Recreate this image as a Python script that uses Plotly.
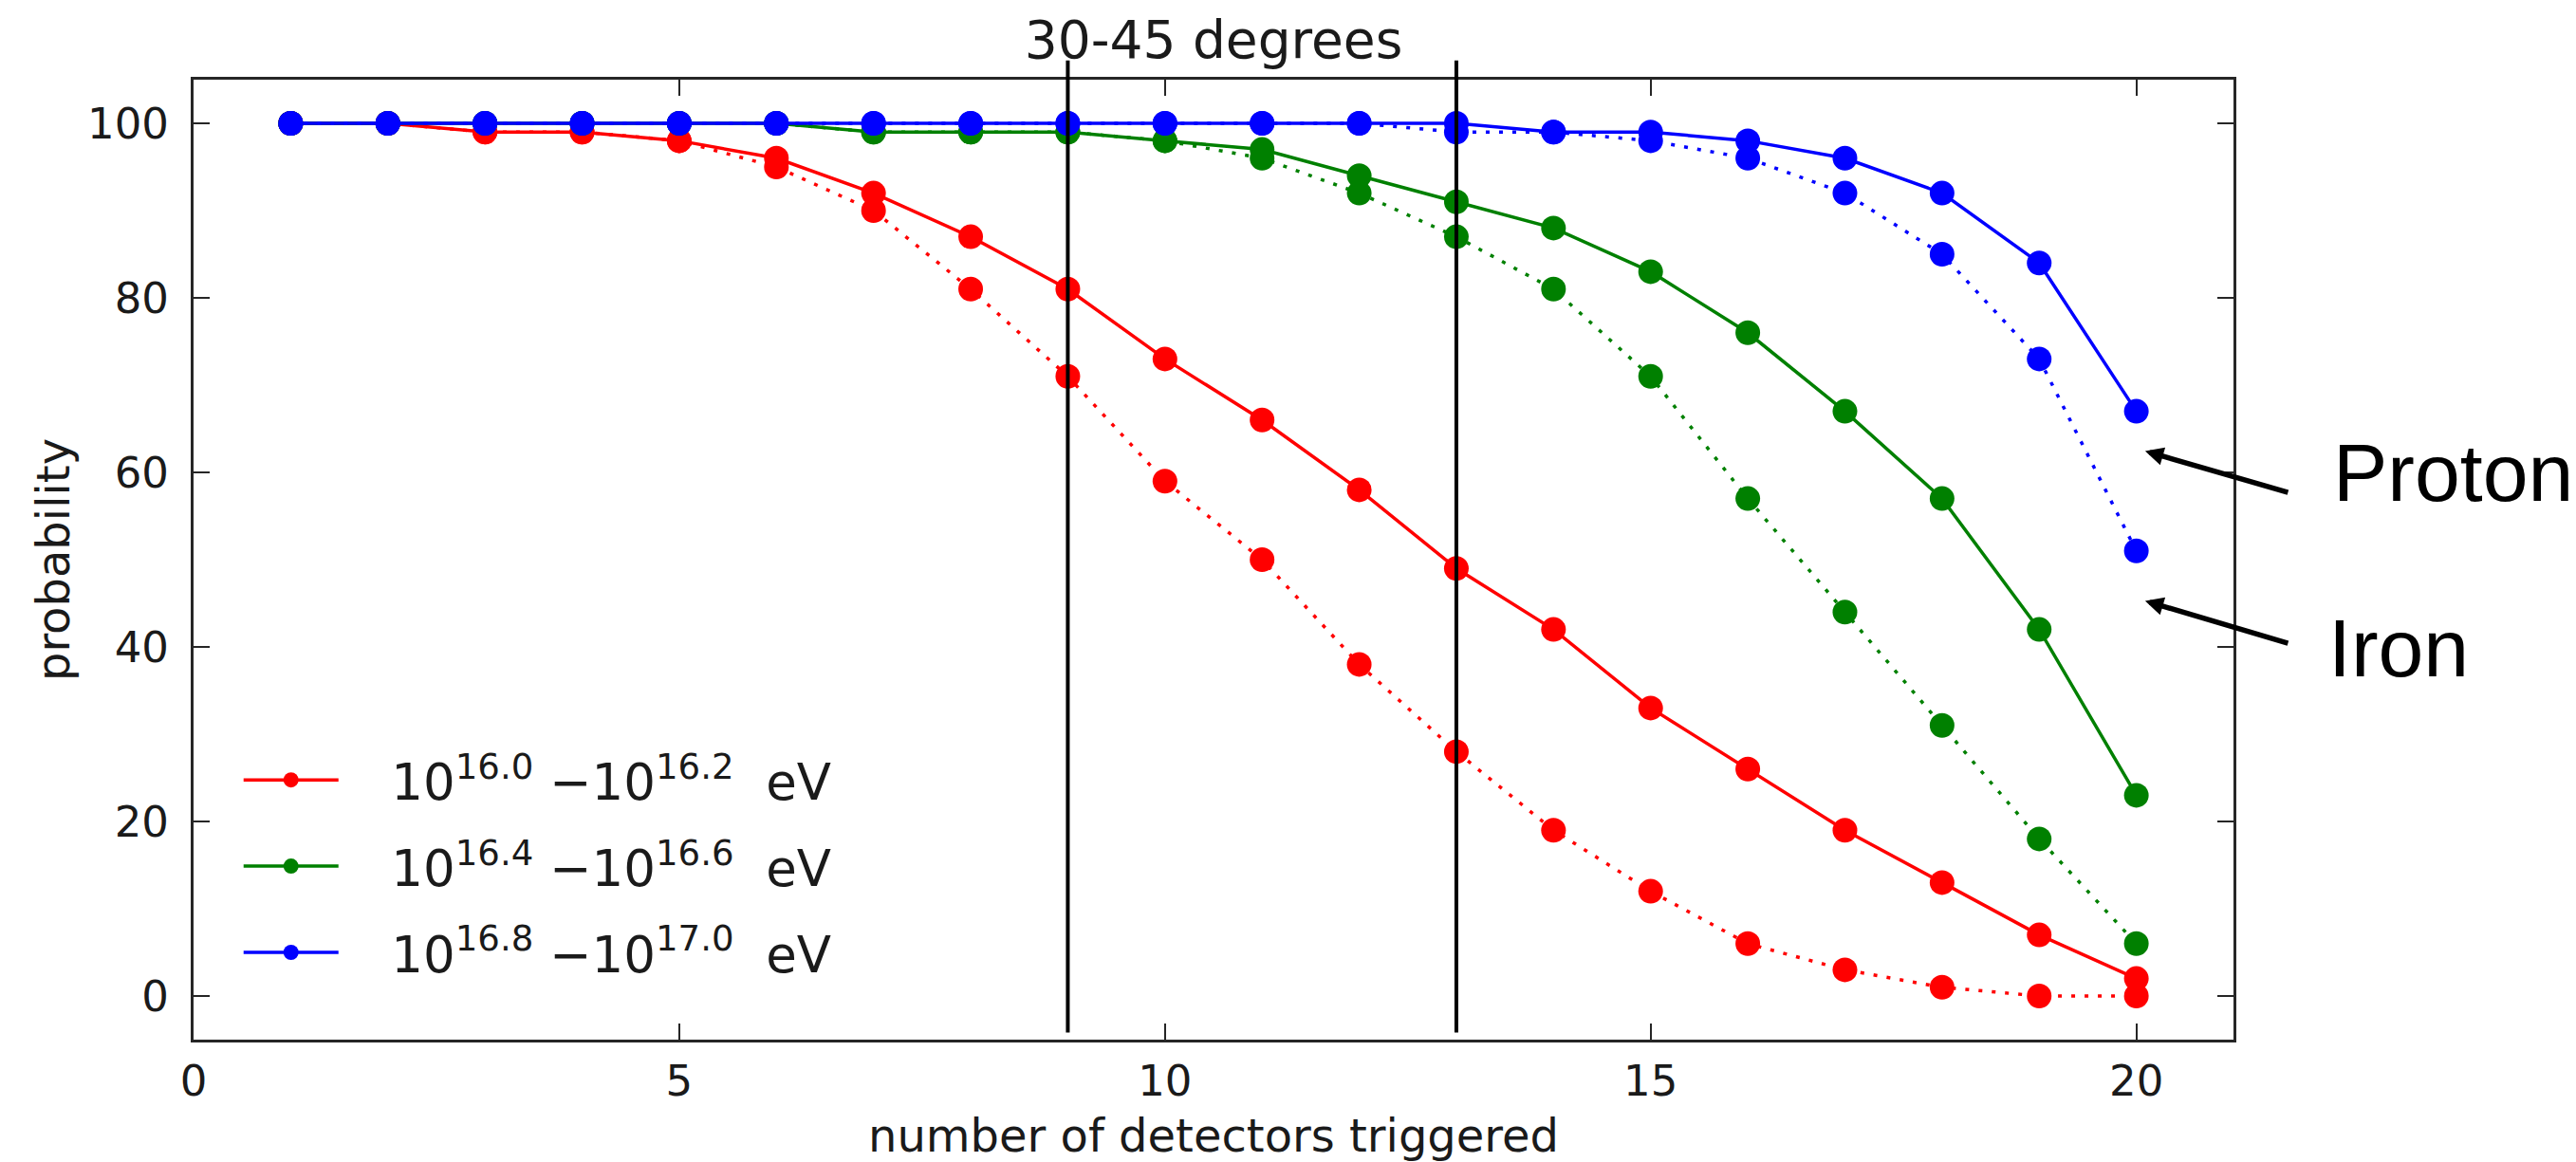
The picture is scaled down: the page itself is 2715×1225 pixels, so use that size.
import plotly.graph_objects as go

# ---------------- data ----------------
detectors = list(range(1, 21))

legend_labels = [
    "\u00a0\u00a0\u00a010<sup>16.0</sup> \u221210<sup>16.2</sup>\u00a0\u00a0eV",
    "\u00a0\u00a0\u00a010<sup>16.4</sup> \u221210<sup>16.6</sup>\u00a0\u00a0eV",
    "\u00a0\u00a0\u00a010<sup>16.8</sup> \u221210<sup>17.0</sup>\u00a0\u00a0eV",
]
colors = ["#ff0000", "#008000", "#0000ff"]

# proton (solid) and iron (dotted) trigger probabilities, per energy bin
proton_160 = [100, 100, 99, 99, 98, 96, 92, 87, 81, 73, 66, 58, 49, 42, 33, 26, 19, 13, 7, 2]
iron_160   = [100, 100, 99, 99, 98, 95, 90, 81, 71, 59, 50, 38, 28, 19, 12, 6, 3, 1, 0, 0]
proton_164 = [100, 100, 100, 100, 100, 100, 99, 99, 99, 98, 97, 94, 91, 88, 83, 76, 67, 57, 42, 23]
iron_164   = [100, 100, 100, 100, 100, 100, 99, 99, 99, 98, 96, 92, 87, 81, 71, 57, 44, 31, 18, 6]
proton_168 = [100, 100, 100, 100, 100, 100, 100, 100, 100, 100, 100, 100, 100, 99, 99, 98, 96, 92, 84, 67]
iron_168   = [100, 100, 100, 100, 100, 100, 100, 100, 100, 100, 100, 100, 99, 99, 98, 96, 92, 85, 73, 51]

proton_series = [proton_160, proton_164, proton_168]
iron_series = [iron_160, iron_164, iron_168]

x_ticks = [0, 5, 10, 15, 20]
y_ticks = [0, 20, 40, 60, 80, 100]
threshold_x = [9, 13]

title_text = "30-45 degrees"
x_title = "number of detectors triggered"
y_title = "probability"

# ---------------- figure ----------------
FONT = "DejaVu Sans"
AXC = "#262626"

fig = go.Figure()
for i in range(3):
    fig.add_trace(go.Scatter(
        x=detectors, y=proton_series[i], mode="lines+markers",
        name=legend_labels[i], legendgroup=f"g{i}",
        line=dict(color=colors[i], width=3.5),
        marker=dict(color=colors[i], size=26, line=dict(width=0)),
    ))
    fig.add_trace(go.Scatter(
        x=detectors, y=iron_series[i], mode="lines+markers",
        name=legend_labels[i] + " (iron)", legendgroup=f"g{i}", showlegend=False,
        line=dict(color=colors[i], width=3.5, dash="4px,10px"),
        marker=dict(color=colors[i], size=26, line=dict(width=0)),
    ))

for xv in threshold_x:
    fig.add_shape(type="line", xref="x", yref="paper", x0=xv, x1=xv,
                  y0=0.0074, y1=1.02, line=dict(color="black", width=4),
                  layer="above")

# annotations: Proton / Iron labels with arrows
fig.add_annotation(text="Proton", xref="paper", yref="paper", x=1.048, y=0.591,
                   xanchor="left", yanchor="middle", showarrow=False,
                   font=dict(family="Liberation Sans", size=86, color="black"))
fig.add_annotation(text="Iron", xref="paper", yref="paper", x=1.0456, y=0.408,
                   xanchor="left", yanchor="middle", showarrow=False,
                   font=dict(family="Liberation Sans", size=86, color="black"))
for hy, ay in [(0.6131, 44), (0.457, 45)]:
    fig.add_annotation(text="", xref="paper", yref="paper", x=0.9567, y=hy,
                       ax=152, ay=ay, showarrow=True, arrowhead=2, arrowsize=0.7,
                       arrowwidth=5.5, arrowcolor="black", standoff=0)

axis_common = dict(
    showline=True, mirror="ticks", linecolor=AXC, linewidth=3,
    ticks="inside", ticklen=17, tickwidth=2, tickcolor=AXC,
    showgrid=False, zeroline=False, automargin=False,
    tickfont=dict(family=FONT, size=45, color="#1a1a1a"),
)

fig.update_layout(
    width=2715, height=1225,
    margin=dict(l=204, r=361, t=84, b=129),
    paper_bgcolor="white", plot_bgcolor="white",
    font=dict(family=FONT, color="#1a1a1a"),
    title=dict(text=title_text, x=0.5, xref="paper", xanchor="center",
               y=1, yref="paper", yanchor="bottom", pad=dict(b=23),
               font=dict(family=FONT, size=55, color="#1a1a1a")),
    xaxis=dict(range=[0, 21], tickvals=x_ticks, ticklabelstandoff=2,
               title=dict(text=x_title, font=dict(family=FONT, size=48), standoff=36),
               **axis_common),
    yaxis=dict(range=[-5, 105], tickvals=y_ticks, ticklabelstandoff=14,
               title=dict(text=y_title, font=dict(family=FONT, size=48), standoff=4),
               **axis_common),
    showlegend=True,
    legend=dict(x=0.0222, y=0.311, xanchor="left", yanchor="top",
                bgcolor="rgba(0,0,0,0)", borderwidth=0,
                font=dict(family=FONT, size=53, color="#1a1a1a"),
                itemwidth=100, tracegroupgap=19, traceorder="grouped"),
)

fig.write_html("out.html")
